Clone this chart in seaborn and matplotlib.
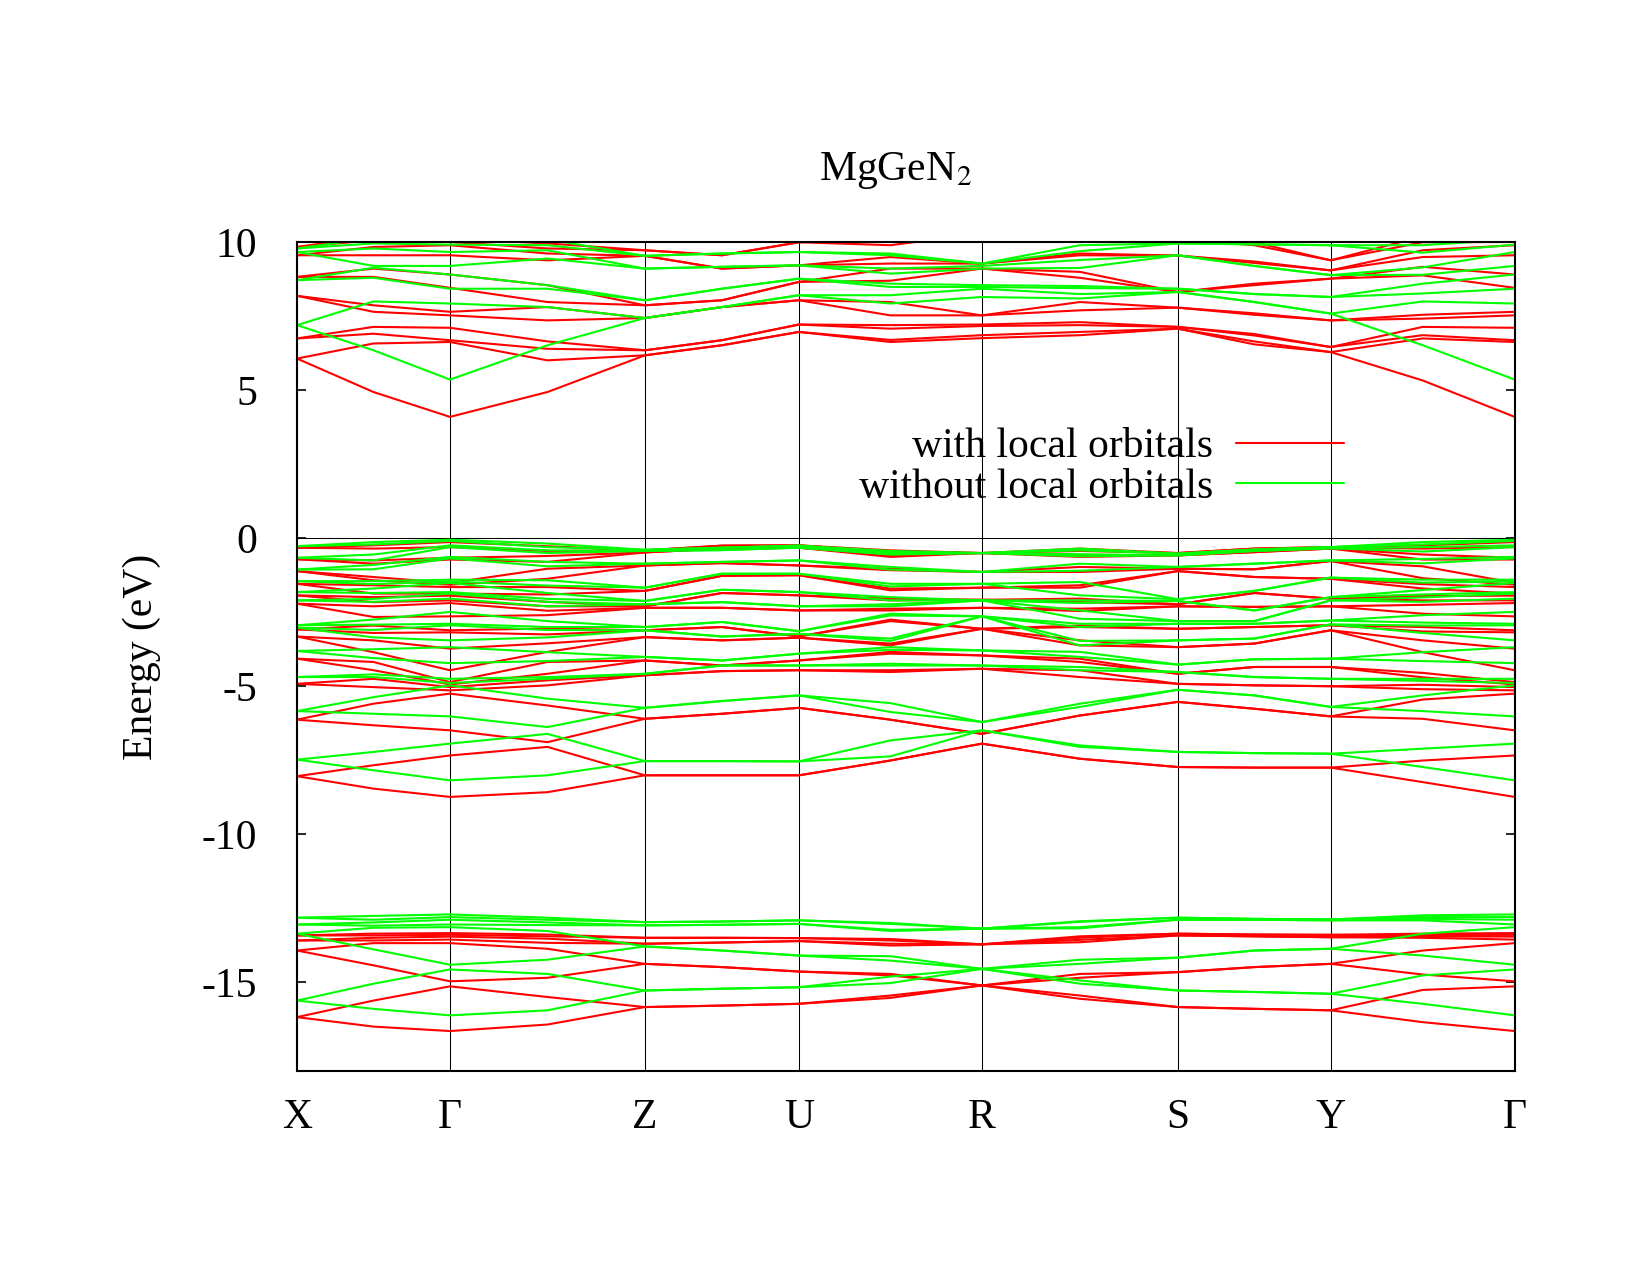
import matplotlib
matplotlib.use("Agg")
import matplotlib.pyplot as plt
import pandas as pd
import seaborn as sns
from matplotlib.lines import Line2D

# k-path (normalised path length) and labels
k_labels = ["X", "Γ", "Z", "U", "R", "S", "Y", "Γ"]
k_ticks = [0.0, 0.1256, 0.2857, 0.4122, 0.5624, 0.7233, 0.8489, 1.0]
# sample points: symmetry points + one point inside each segment
k_samples = [0.0, 0.0628, 0.1256, 0.2057, 0.2857, 0.3490, 0.4122, 0.4873,
             0.5624, 0.6429, 0.7233, 0.7861, 0.8489, 0.9245, 1.0]

# ---- with local orbitals (red), energies in eV at each k sample ----
lo_core = [
    [-13.42, -13.42, -13.59, -13.59, -13.93, -13.93, -16.18, -16.18],
    [-13.36, -13.42, -13.50, -13.59, -13.68, -14.43, -15.62, -16.50],
    [-13.34, -13.40, -13.46, -13.56, -13.68, -14.97, -15.14, -16.65],
    [-13.39, -13.45, -13.53, -13.67, -13.87, -14.85, -15.50, -16.43],
    [-13.50, -13.50, -13.70, -13.70, -14.38, -14.38, -15.84, -15.84],
    [-13.50, -13.50, -13.66, -13.66, -14.49, -14.49, -15.79, -15.79],
    [-13.51, -13.51, -13.61, -13.61, -14.64, -14.64, -15.73, -15.73],
    [-13.54, -13.59, -13.70, -13.76, -14.72, -14.77, -15.45, -15.53],
    [-13.72, -13.72, -13.72, -13.72, -15.11, -15.11, -15.11, -15.11],
    [-13.45, -13.50, -13.57, -13.65, -14.72, -14.85, -15.45, -15.56],
    [-13.36, -13.36, -13.42, -13.42, -14.66, -14.66, -15.84, -15.84],
    [-13.39, -13.39, -13.45, -13.45, -14.49, -14.49, -15.90, -15.90],
    [-13.40, -13.40, -13.48, -13.48, -14.38, -14.38, -15.95, -15.95],
    [-13.36, -13.41, -13.45, -13.50, -13.93, -14.74, -15.26, -16.35],
    [-13.34, -13.40, -13.46, -13.56, -13.68, -14.97, -15.14, -16.65],
]
lo_val = [
    [-0.32, -0.32, -0.71, -0.71, -1.11, -1.11, -1.54, -1.54, -1.93, -1.93, -2.21, -2.21,
     -3.08, -3.08, -3.32, -3.32, -4.07, -4.07, -4.92, -4.92, -6.13, -6.13, -8.04, -8.04],
    [-0.24, -0.35, -0.75, -0.86, -1.31, -1.42, -1.59, -1.87, -1.99, -2.16, -2.30, -2.66,
     -2.95, -3.20, -3.45, -3.85, -4.18, -4.46, -4.75, -5.03, -5.59, -6.32, -7.67, -8.46],
    [-0.13, -0.30, -0.66, -0.72, -1.51, -1.57, -1.65, -1.87, -1.94, -2.10, -2.19, -2.64,
     -3.11, -3.18, -3.73, -4.46, -4.86, -4.94, -5.03, -5.14, -5.25, -6.49, -7.34, -8.74],
    [-0.27, -0.43, -0.60, -0.80, -1.03, -1.37, -1.65, -1.90, -2.15, -2.30, -2.45, -2.60,
     -3.05, -3.25, -3.55, -3.84, -4.18, -4.58, -4.80, -4.97, -5.65, -6.89, -7.05, -8.58],
    [-0.41, -0.41, -0.48, -0.48, -0.92, -0.92, -1.78, -1.78, -2.30, -2.30, -2.35, -2.35,
     -3.11, -3.11, -3.34, -3.34, -4.13, -4.13, -4.63, -4.63, -6.10, -6.10, -8.01, -8.01],
    [-0.25, -0.25, -0.35, -0.35, -0.84, -0.84, -1.27, -1.27, -1.85, -1.85, -2.35, -2.35,
     -3.00, -3.00, -3.45, -3.45, -4.30, -4.30, -4.49, -4.49, -5.93, -5.93, -8.01, -8.01],
    [-0.24, -0.24, -0.32, -0.32, -0.92, -0.92, -1.25, -1.25, -1.93, -1.93, -2.44, -2.44,
     -3.32, -3.32, -3.36, -3.36, -4.13, -4.13, -4.46, -4.46, -5.73, -5.73, -8.01, -8.01],
    [-0.41, -0.45, -0.58, -0.63, -1.03, -1.08, -1.70, -1.76, -2.04, -2.10, -2.38, -2.44,
     -2.75, -2.80, -3.56, -3.62, -3.84, -3.90, -4.46, -4.52, -6.13, -6.13, -7.51, -7.51],
    [-0.50, -0.50, -0.50, -0.50, -1.14, -1.14, -1.67, -1.67, -2.08, -2.08, -2.35, -2.35,
     -3.06, -3.06, -3.06, -3.06, -3.96, -3.96, -4.41, -4.41, -6.61, -6.61, -6.94, -6.94],
    [-0.35, -0.43, -0.58, -0.63, -0.97, -1.14, -1.59, -1.67, -2.04, -2.16, -2.38, -2.46,
     -2.95, -3.00, -3.45, -3.62, -4.07, -4.18, -4.46, -4.69, -5.99, -5.99, -7.45, -7.45],
    [-0.50, -0.50, -0.58, -0.58, -1.03, -1.03, -1.11, -1.11, -2.23, -2.23, -2.30, -2.30,
     -3.06, -3.06, -3.68, -3.68, -4.58, -4.58, -4.92, -4.92, -5.53, -5.53, -7.73, -7.73],
    [-0.35, -0.35, -0.47, -0.47, -1.05, -1.05, -1.31, -1.31, -1.85, -1.85, -2.32, -2.32,
     -3.00, -3.00, -3.56, -3.56, -4.35, -4.35, -4.97, -4.97, -5.76, -5.76, -7.75, -7.75],
    [-0.30, -0.30, -0.35, -0.35, -0.77, -0.77, -1.37, -1.37, -2.04, -2.04, -2.30, -2.30,
     -2.94, -2.94, -3.11, -3.11, -4.35, -4.35, -5.00, -5.00, -6.02, -6.02, -7.75, -7.75],
    [-0.24, -0.35, -0.55, -0.72, -0.95, -1.35, -1.55, -1.70, -1.95, -2.10, -2.25, -2.55,
     -3.00, -3.15, -3.45, -3.85, -4.55, -4.70, -4.95, -5.10, -5.45, -6.10, -7.51, -8.24],
    [-0.13, -0.30, -0.66, -0.72, -1.51, -1.57, -1.65, -1.87, -1.94, -2.10, -2.19, -2.64,
     -3.11, -3.18, -3.73, -4.46, -4.86, -4.94, -5.03, -5.14, -5.25, -6.49, -7.34, -8.74],
]
lo_cond = [
    [6.07, 6.07, 6.75, 6.75, 8.19, 8.19, 8.83, 8.83, 9.56, 9.56, 9.84, 9.84],
    [4.94, 6.58, 6.91, 7.14, 7.65, 7.87, 8.83, 9.11, 9.56, 9.84, 10.07, 10.20],
    [4.10, 6.63, 6.69, 7.11, 7.53, 7.65, 8.46, 8.91, 9.56, 9.90, 10.01, 10.12],
    [4.94, 6.01, 6.40, 6.65, 7.36, 7.81, 7.98, 8.55, 9.39, 9.62, 9.79, 9.96],
    [6.18, 6.18, 6.35, 6.35, 7.44, 7.44, 7.87, 7.87, 9.54, 9.54, 9.73, 9.73],
    [6.52, 6.52, 6.69, 6.69, 7.81, 7.81, 8.04, 8.04, 9.11, 9.11, 9.56, 9.56],
    [6.97, 6.97, 7.22, 7.22, 8.04, 8.04, 8.66, 8.66, 9.22, 9.22, 10.00, 10.00],
    [6.63, 6.70, 7.08, 7.20, 7.53, 7.98, 8.70, 9.11, 9.28, 9.50, 9.90, 10.10],
    [6.76, 6.86, 7.17, 7.22, 7.53, 7.53, 9.11, 9.11, 9.28, 9.28, 10.30, 10.30],
    [6.86, 6.97, 7.20, 7.30, 7.70, 7.98, 8.80, 9.00, 9.56, 9.62, 10.10, 10.20],
    [7.08, 7.08, 7.14, 7.14, 7.79, 7.79, 8.32, 8.32, 9.55, 9.55, 10.10, 10.10],
    [6.55, 6.65, 6.85, 6.90, 7.55, 7.60, 8.55, 8.60, 9.30, 9.35, 9.90, 10.00],
    [6.29, 6.29, 6.46, 6.46, 7.36, 7.36, 8.77, 8.77, 9.05, 9.05, 9.39, 9.39],
    [5.33, 6.75, 6.86, 7.14, 7.42, 7.55, 8.88, 9.17, 9.50, 9.73, 10.00, 10.20],
    [4.10, 6.63, 6.69, 7.11, 7.53, 7.65, 8.46, 8.91, 9.56, 9.90, 10.01, 10.12],
]

# ---- without local orbitals (green) ----
nolo_core = [
    [-12.82, -12.82, -13.05, -13.05, -13.36, -13.36, -15.62, -15.62],
    [-12.76, -12.89, -12.98, -13.09, -13.16, -13.89, -15.05, -15.90],
    [-12.71, -12.80, -12.89, -13.05, -13.14, -14.41, -14.57, -16.12],
    [-12.82, -12.89, -12.98, -13.07, -13.27, -14.24, -14.72, -15.95],
    [-12.97, -12.97, -13.08, -13.08, -13.79, -13.79, -15.28, -15.28],
    [-12.95, -12.95, -13.06, -13.06, -13.93, -13.93, -15.22, -15.22],
    [-12.91, -12.91, -13.03, -13.03, -14.10, -14.10, -15.17, -15.17],
    [-13.00, -13.03, -13.23, -13.27, -14.12, -14.27, -14.81, -15.03],
    [-13.19, -13.19, -13.19, -13.19, -14.55, -14.55, -14.55, -14.55],
    [-12.94, -12.96, -13.14, -13.18, -14.24, -14.38, -14.94, -15.05],
    [-12.82, -12.82, -12.89, -12.89, -14.17, -14.17, -15.28, -15.28],
    [-12.86, -12.86, -12.89, -12.89, -13.93, -13.93, -15.33, -15.33],
    [-12.88, -12.88, -12.91, -12.91, -13.87, -13.87, -15.39, -15.39],
    [-12.74, -12.80, -12.86, -12.91, -13.36, -14.10, -14.77, -15.73],
    [-12.71, -12.80, -12.89, -13.05, -13.14, -14.41, -14.57, -16.12],
]
nolo_val = [
    [-0.27, -0.27, -0.66, -0.66, -1.06, -1.06, -1.45, -1.45, -1.82, -1.82, -2.10, -2.10,
     -2.94, -2.94, -3.02, -3.02, -3.81, -3.81, -4.69, -4.69, -5.84, -5.84, -7.48, -7.48],
    [-0.13, -0.21, -0.55, -0.75, -0.90, -1.05, -1.45, -1.55, -1.70, -1.85, -2.05, -2.15,
     -2.75, -2.92, -3.10, -3.35, -3.75, -4.05, -4.60, -4.69, -5.37, -5.93, -7.22, -7.84],
    [-0.05, -0.09, -0.24, -0.30, -0.63, -0.68, -1.40, -1.46, -1.51, -1.82, -1.87, -2.04,
     -2.49, -2.89, -2.94, -3.45, -3.68, -4.22, -4.75, -4.89, -4.97, -6.02, -6.94, -8.18],
    [-0.18, -0.30, -0.41, -0.50, -0.80, -0.95, -1.42, -1.60, -1.85, -2.05, -2.15, -2.30,
     -2.80, -3.00, -3.10, -3.35, -3.85, -4.15, -4.69, -4.75, -5.42, -6.38, -6.61, -8.01],
    [-0.39, -0.39, -0.43, -0.43, -0.86, -0.86, -1.67, -1.67, -2.12, -2.12, -2.23, -2.23,
     -3.00, -3.00, -3.11, -3.11, -4.01, -4.01, -4.58, -4.58, -5.73, -5.73, -7.53, -7.53],
    [-0.32, -0.32, -0.40, -0.40, -0.80, -0.80, -1.20, -1.20, -1.74, -1.74, -2.16, -2.16,
     -2.83, -2.83, -3.32, -3.32, -4.13, -4.13, -4.30, -4.30, -5.50, -5.50, -7.53, -7.53],
    [-0.25, -0.25, -0.32, -0.32, -0.75, -0.75, -1.20, -1.20, -1.82, -1.82, -2.30, -2.30,
     -3.14, -3.14, -3.23, -3.23, -3.90, -3.90, -4.30, -4.30, -5.31, -5.31, -7.54, -7.54],
    [-0.43, -0.48, -0.54, -0.55, -0.97, -1.06, -1.54, -1.63, -1.99, -2.10, -2.23, -2.30,
     -2.55, -2.61, -3.39, -3.47, -3.68, -3.77, -4.24, -4.30, -5.57, -5.87, -6.83, -7.37],
    [-0.50, -0.50, -0.50, -0.50, -1.14, -1.14, -1.54, -1.54, -2.10, -2.10, -2.10, -2.10,
     -2.64, -2.64, -2.64, -2.64, -3.79, -3.79, -4.30, -4.30, -6.21, -6.21, -6.49, -6.49],
    [-0.35, -0.41, -0.54, -0.61, -0.86, -1.10, -1.48, -1.93, -2.10, -2.19, -2.44, -2.72,
     -2.89, -3.00, -3.47, -3.62, -3.84, -4.01, -4.35, -4.46, -5.59, -5.70, -7.00, -7.05],
    [-0.52, -0.52, -0.58, -0.58, -0.97, -0.97, -2.06, -2.06, -2.12, -2.12, -2.80, -2.80,
     -2.89, -2.89, -3.45, -3.45, -4.27, -4.27, -4.52, -4.52, -5.12, -5.12, -7.22, -7.22],
    [-0.38, -0.38, -0.43, -0.43, -0.86, -0.86, -1.78, -1.78, -2.44, -2.44, -2.80, -2.80,
     -2.89, -2.89, -3.39, -3.39, -4.09, -4.09, -4.69, -4.69, -5.31, -5.31, -7.26, -7.26],
    [-0.30, -0.30, -0.34, -0.34, -0.75, -0.75, -1.33, -1.33, -1.99, -1.99, -2.10, -2.10,
     -2.78, -2.78, -2.91, -2.91, -4.07, -4.07, -4.75, -4.75, -5.70, -5.70, -7.28, -7.28],
    [-0.13, -0.21, -0.30, -0.45, -0.70, -0.85, -1.40, -1.50, -1.75, -1.90, -2.00, -2.15,
     -2.60, -2.85, -2.95, -3.20, -3.85, -4.15, -4.75, -4.82, -5.31, -5.84, -7.11, -7.73],
    [-0.05, -0.09, -0.24, -0.30, -0.63, -0.68, -1.40, -1.46, -1.51, -1.82, -1.87, -2.04,
     -2.49, -2.89, -2.94, -3.45, -3.68, -4.22, -4.75, -4.89, -4.97, -6.02, -6.94, -8.18],
]
nolo_cond = [
    [7.20, 7.20, 8.72, 8.72, 9.67, 9.67, 9.79, 9.79, 10.30, 10.30, 10.60, 10.60],
    [6.35, 8.00, 8.80, 9.14, 9.20, 9.79, 9.96, 10.15, 10.30, 10.50, 10.70, 10.90],
    [5.36, 7.93, 8.43, 8.91, 9.20, 9.67, 9.92, 10.10, 10.30, 10.50, 10.70, 10.90],
    [6.52, 7.81, 8.43, 8.55, 9.45, 9.73, 9.90, 10.10, 10.30, 10.50, 10.70, 10.90],
    [7.44, 7.44, 8.04, 8.04, 9.11, 9.11, 9.54, 9.54, 10.20, 10.20, 10.50, 10.50],
    [7.81, 7.81, 8.43, 8.43, 9.17, 9.17, 9.62, 9.62, 10.20, 10.20, 10.50, 10.50],
    [8.21, 8.21, 8.77, 8.77, 9.22, 9.22, 9.67, 9.67, 10.20, 10.20, 10.50, 10.50],
    [7.93, 8.21, 8.49, 8.60, 8.94, 9.11, 9.56, 9.62, 10.10, 10.30, 10.50, 10.70],
    [8.15, 8.43, 8.49, 8.55, 9.11, 9.20, 9.28, 9.28, 10.20, 10.30, 10.50, 10.70],
    [8.10, 8.25, 8.45, 8.52, 9.13, 9.40, 9.70, 9.90, 10.10, 10.30, 10.50, 10.70],
    [8.32, 8.32, 8.43, 8.43, 9.56, 9.56, 9.96, 9.96, 10.40, 10.40, 10.70, 10.70],
    [7.98, 7.98, 8.25, 8.25, 9.20, 9.20, 9.93, 9.93, 10.40, 10.40, 10.70, 10.70],
    [7.59, 7.59, 8.15, 8.15, 8.89, 8.89, 9.90, 9.90, 10.40, 10.40, 10.70, 10.70],
    [6.52, 8.00, 8.27, 8.60, 8.90, 9.15, 9.65, 9.90, 10.20, 10.40, 10.60, 10.80],
    [5.36, 7.93, 8.43, 8.91, 9.20, 9.67, 9.92, 10.10, 10.30, 10.50, 10.70, 10.90],
]

series_names = ["with local orbitals", "without local orbitals"]
series_colors = ["#ff0000", "#00ff00"]


def bands_frame(groups, name):
    """Long table: one row per (band, k). Bands are the sorted eigenvalues at each k."""
    rows = []
    for g, block in enumerate(groups):
        for i, k in enumerate(k_samples):
            for b, e in enumerate(sorted(block[i])):
                rows.append((name, f"{name}|{g}|{b}", k, e))
    return pd.DataFrame(rows, columns=["set", "band", "k", "E"])


df = pd.concat([
    bands_frame([lo_core, lo_val, lo_cond], series_names[0]),
    bands_frame([nolo_core, nolo_val, nolo_cond], series_names[1]),
], ignore_index=True)

sns.set_style("ticks")
plt.rcParams["font.family"] = ["Liberation Serif", "DejaVu Serif"]
plt.rcParams["mathtext.fontset"] = "stix"
plt.rcParams["axes.unicode_minus"] = False
for key in ["text.color", "axes.labelcolor", "axes.edgecolor", "xtick.color", "ytick.color"]:
    plt.rcParams[key] = "black"

fig = plt.figure(figsize=(11, 8.5), dpi=150)
ax = fig.add_axes([0.18, 0.16, 0.738, 0.65])

sns.lineplot(data=df, x="k", y="E", hue="set", units="band", estimator=None,
             sort=False, palette=dict(zip(series_names, series_colors)),
             hue_order=series_names, linewidth=1.0, legend=False, ax=ax)

# symmetry lines and Fermi level
for kt in k_ticks[1:-1]:
    ax.axvline(kt, color="black", lw=0.5, zorder=0.5)
ax.axhline(0, color="black", lw=0.5, zorder=0.5)

ax.set_xlim(k_ticks[0], k_ticks[-1])
ax.set_ylim(-18, 10)
ax.set_xticks(k_ticks)
ax.set_xticklabels(k_labels)
ax.set_yticks([-15, -10, -5, 0, 5, 10])
ax.tick_params(axis="y", direction="in", right=True, length=4.5, width=0.8,
               labelsize=20, pad=19)
ax.tick_params(axis="x", length=0, labelsize=20, pad=13)
ax.set_xlabel("")
ax.set_ylabel("Energy (eV)", fontsize=20, labelpad=19.5)
ax.set_title("MgGeN$_2$", fontsize=20, pad=30, x=0.4914)
for s in ax.spines.values():
    s.set_linewidth(1.0)

handles = [Line2D([], [], color=c, lw=1.0) for c in series_colors]
ax.legend(handles, series_names, loc="upper right", bbox_to_anchor=(0.860, 0.776),
          frameon=False, markerfirst=False, fontsize=20, handlelength=2.6,
          handletextpad=0.55, labelspacing=0.05, borderpad=0, borderaxespad=0)

fig.savefig("out.png", dpi=150)
